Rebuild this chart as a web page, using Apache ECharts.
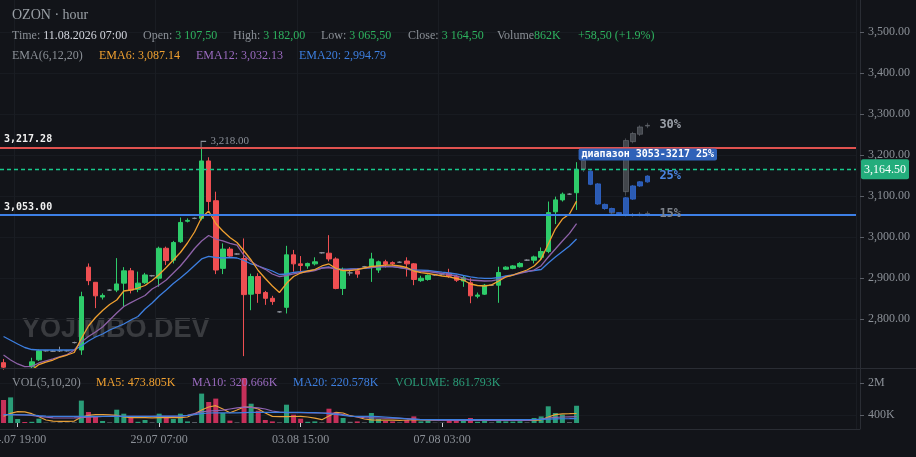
<!DOCTYPE html>
<html><head><meta charset="utf-8">
<script src="https://cdn.jsdelivr.net/npm/echarts@6/dist/echarts.min.js"></script>
<style>html,body{margin:0;padding:0;background:#121419;}#c{width:916px;height:457px;}</style>
</head><body><div id="c"></div>
<script>
// ---- data ----
const slotCount = 121;
const tickIndex = [2, 22, 42, 62];
const tickLabels = ['24.07 19:00', '29.07 07:00', '03.08 15:00', '07.08 03:00'];
const yTicks = [2800, 2900, 3000, 3100, 3200, 3300, 3400, 3500];
const volTicks = [400, 2000];

const opens  = [2693,2660,2670,2676,2683,2700,2722,2721,2722,2722, 2742,2724,2926,2889,2853,2870,2870,2887,2917,2872, 2888,2905,2899,2972,2943,2988,3038,3045,3045,3185, 3088,2923,2970,2958,2947,2860,2903,2864,2850,2817, 2828,2956,2934,2929,2934,2961,2960,2946,2874,2912, 2917,2927,2927,2919,2939,2937,2938,2941,2934,2893, 2896,2907,2909,2911,2904,2892,2888,2855,2860,2882, 2882,2921,2923,2927,2943,2943,2950,2964,3061,3090, 3104,3107.5];
const closes = [2682,2677,2675,2671,2695,2722,2722,2721,2722,2722, 2742,2854,2893,2856,2857,2870,2885,2917,2870,2887, 2907,2905,2972,2942,2986,3035,3040,3045,3185,3086, 2919,2970,2953,2958,2859,2903,2862,2850,2842,2817, 2956,2934,2930,2935,2939,2961,2946,2874,2921,2912, 2909,2927,2946,2939,2933,2934,2938,2934,2896,2899, 2906,2907,2909,2904,2894,2900,2856,2858,2882,2882, 2913,2926,2929,2935,2943,2951,2964,3059,3090,3104, 3104,3164.5];
const lows   = [2676,2650,2664,2666,2678,2697,2720,2719,2719,2720, 2740,2712,2882,2826,2847,2868,2865,2830,2862,2865, 2885,2903,2878,2931,2935,2985,3035,3043,3040,3065, 2909,2909,2950,2956,2709,2821,2839,2834,2834,2815, 2813,2915,2915,2922,2930,2959,2940,2872,2858,2905, 2900,2925,2890,2912,2925,2930,2936,2903,2882,2890, 2893,2905,2907,2900,2890,2878,2838,2850,2858,2880, 2839,2919,2921,2925,2941,2935,2943,2960,3031,3086, 3102,3065.5];
const highs  = [2702,2679,2678,2679,2705,2725,2724,2723,2732,2724, 2744,2866,2935,2889,2862,2872,2948,2926,2924,2915, 2912,2907,2976,2976,2990,3047,3045,3047,3218,3194, 3110,2984,2975,2960,2996,2910,2911,2868,2856,2819, 2978,2968,2953,2937,2950,2963,3004,2950,2925,2918, 2919,2929,2961,2942,2944,2940,2940,2950,2936,2905, 2908,2909,2911,2922,2907,2905,2899,2864,2885,2884, 2927,2928,2931,2938,2945,2954,2974,3086,3098,3108, 3106,3182];

const ema6  = [2676,2672,2670,2672,2675,2688.5,2694.6,2699.5,2706.8,2711.7, 2717.8,2752,2782.4,2803.2,2820.2,2834.9,2845.9,2867.8,2870.2,2875.1, 2881.2,2893.4,2908,2925.1,2943.4,2961.7,2984.9,3011.7,3047.1,3062.9, 3032.4,3014.1,2998.3,2986.1,2965.4,2943.4,2917.8,2898.3,2880,2864.1, 2886.6,2903.2,2911.7,2916.6,2920.2,2928.8,2933.7,2922.7,2917.3,2917.3, 2920.2,2923.9,2927.6,2929.3,2930.7,2930.7,2928.8,2925.1,2916.6,2912.4, 2910.5,2908,2904.4,2902,2898.3,2894.6,2884.9,2881.2,2880,2882.9, 2892.2,2902,2906.8,2912.9,2919,2928.8,2945.9,2982.4,3019,3043.4, 3055.6,3087.14];
const ema12 = [2711.7,2699.5,2689.8,2683.2,2684.1,2692.2,2697.1,2702,2707.6,2712.9, 2723.9,2743.4,2756.8,2767.8,2780,2797.1,2814.1,2830,2839.3,2848.3, 2856.8,2872.7,2882.4,2894.6,2911.7,2928.8,2949.5,2971.5,2989.8,3003.2, 2994.6,2989.8,2984.1,2979.5,2954.4,2939.8,2928.8,2920.7,2909.3,2902.7, 2905.6,2909.3,2912.9,2914.6,2917.6,2923.4,2925.1,2921.5,2919.5,2920.7, 2922,2923.4,2925.1,2926.8,2927.1,2927.1,2925.1,2921.5,2916.6,2915.9, 2915.1,2912.9,2910.5,2908,2904.4,2899.5,2894.6,2893.4,2892.2,2892.7, 2895.9,2902,2906.8,2911,2914.9,2919,2929.5,2950.7,2970.2,2989.8, 3008.3,3032.13];
const ema20 = [2756.8,2747.6,2738.5,2730,2725.1,2723.9,2723.9,2723.9,2723.9,2723.9, 2723.9,2733.7,2745.9,2755.6,2762.9,2772.7,2780,2787.3,2797.1,2805.6, 2823.9,2838.5,2855.6,2870.2,2886.1,2899.5,2914.1,2930,2945.9,2952, 2949.5,2948.3,2949.5,2948.3,2942.2,2933.7,2928.8,2922.7,2916.6,2908, 2909.3,2912.9,2914.9,2917.1,2919.5,2923.9,2926.3,2921.5,2920.7,2921.5, 2922.2,2923.2,2925.1,2926.8,2927.1,2927.1,2925.1,2922.2,2919,2918.5, 2917.8,2915.9,2913.7,2911.7,2909.3,2905.6,2902.4,2900,2898.8,2898.8, 2900.7,2904.4,2906.8,2912.4,2915.4,2917.8,2920.2,2936.1,2950.7,2964.1, 2977.6,2994.79];

// volume in thousands
const volumes = [1150,1280,200,50,60,215,20,20,30,20, 30,1120,550,330,100,30,665,465,330,60, 150,30,465,330,200,465,80,40,1470,1050, 1220,500,120,30,2250,965,615,150,80,30, 915,415,215,60,80,30,715,550,250,60, 80,30,500,200,100,80,30,150,330,80, 100,20,20,120,180,100,250,60,150,30, 200,80,70,90,30,250,330,835,500,420, 40,862];
const volMA5  = [335,480,565,560,465,315,150,90,80,85, 95,300,380,415,420,410,380,300,270,265, 265,260,270,265,265,270,300,450,650,800, 865,700,515,650,800,790,700,500,330,320, 320,325,330,300,240,165,350,530,500,365, 300,200,160,140,140,140,135,150,170,160, 140,140,135,150,160,170,160,140,135,130, 140,150,150,140,130,135,160,300,420,460, 465,474];
const volMA10 = [420,415,410,400,380,330,290,260,250,250, 255,270,290,310,325,335,340,335,330,330, 330,330,330,330,330,340,380,470,560,600, 620,640,700,760,790,780,760,700,600,540, 520,515,515,510,505,500,500,480,420,350, 300,270,260,250,245,240,235,220,200,170, 150,140,130,125,125,125,125,125,125,125, 125,125,125,125,130,160,200,250,280,300, 310,321];
const volMA20 = [415,415,412,410,400,370,345,335,330,330, 330,330,330,330,330,330,330,330,330,330, 330,335,340,345,350,360,380,420,470,500, 505,505,505,510,520,530,530,530,530,530, 530,530,530,525,520,500,470,430,380,340, 330,330,330,320,300,270,240,210,190,170, 165,165,165,165,165,165,165,165,165,165, 165,165,165,165,170,175,185,195,205,212, 216,221];

// forecast scenarios
const scenUpIdx = [82, 88, 89, 90, 91];
const scenUpO = [3165, 3110, 3232, 3250, 3270];
const scenUpC = [3186, 3235, 3252, 3268, 3272];
const scenUpL = [3158, 3100, 3228, 3246, 3265];
const scenUpH = [3192, 3240, 3256, 3272, 3278];
const scenMidIdx = [83, 84, 85, 86, 87, 88, 89, 90, 91];
const scenMidO = [3160, 3129, 3079, 3069, 3059, 3053, 3092, 3124, 3134];
const scenMidC = [3128, 3080, 3069, 3061, 3057, 3095, 3124, 3134, 3148];
const scenMidL = [3126, 3078, 3066, 3058, 3055, 3050, 3090, 3122, 3132];
const scenMidH = [3162, 3131, 3081, 3071, 3060, 3097, 3126, 3136, 3150];
const scenLowIdx = [86, 87, 89, 90, 91];
const scenLowO = [3060, 3057, 3052, 3054, 3055];
const scenLowC = [3058, 3056, 3054, 3055, 3057];
const scenLowL = [3055, 3053, 3049, 3050, 3050];
const scenLowH = [3063, 3060, 3058, 3060, 3062];

const resistance = 3217.28, support = 3053, lastPrice = 3164.5, peakHigh = 3218;

// ---- build ----
const cats = Array.from({length: slotCount}, (_, i) => 'c' + i);
const candleData = opens.map((o, i) => [o, closes[i], lows[i], highs[i]]);
function scen(idx, O, C, L, H) {
  const d = cats.map(() => ['-', '-', '-', '-']);
  idx.forEach((k, j) => { d[k] = [O[j], C[j], L[j], H[j]]; });
  return d;
}
const UP = '#2ecc6a', DN = '#ef4f52', DOJI = '#8a8f98';
const VUP = '#2a9d78', VDN = '#c6305a';
const volData = volumes.map((v, i) => ({
  value: v,
  itemStyle: {color: closes[i] > opens[i] ? VUP : (closes[i] < opens[i] ? VDN : '#6a6e76')}
}));
const fmt2 = v => v.toLocaleString('en-US', {minimumFractionDigits: 2, maximumFractionDigits: 2});
const SERIF = '"Liberation Serif", "DejaVu Serif", serif';
const MONO = '"DejaVu Sans Mono", "Liberation Mono", monospace';
const GREY = '#8b9097', GREEN = '#2eb35f', ORANGE = '#f0a030', PURPLE = '#9b6bc0', BLUE = '#3d7fe0';

function T(text, left, top, rich) {
  return {text, left, top, padding: 0, textStyle: {fontFamily: SERIF, fontSize: 12, fontWeight: 'normal', rich}};
}
const r = (c, s) => ({color: c, fontFamily: SERIF, fontSize: s || 12, lineHeight: 14});
const rich = {l: r(GREY), w: r('#d1d4dc'), g: r(GREEN), o: r(ORANGE), p: r(PURPLE), b: r(BLUE), t: r(VUP), n: r('#9aa0a6', 14)};

const chart = echarts.init(document.getElementById('c'), null, {renderer: 'canvas'});
chart.setOption({
  backgroundColor: '#121419',
  animation: false,
  title: [
    T('{n|OZON · hour}', 12, 8, rich),
    T('{l|Time: }{w|11.08.2026 07:00}', 12, 29, rich),
    T('{l|Open: }{g|3 107,50}', 143, 29, rich),
    T('{l|High: }{g|3 182,00}', 233, 29, rich),
    T('{l|Low: }{g|3 065,50}', 321, 29, rich),
    T('{l|Close: }{g|3 164,50}', 408, 29, rich),
    T('{l|Volume}{g|862K}', 497, 29, rich),
    T('{g|+58,50 (+1.9%)}', 578, 29, rich),
    T('{l|EMA(6,12,20)}', 12, 49, rich),
    T('{o|EMA6: 3,087.14}', 99, 49, rich),
    T('{p|EMA12: 3,032.13}', 196, 49, rich),
    T('{b|EMA20: 2,994.79}', 299, 49, rich),
    T('{l|VOL(5,10,20)}', 12, 376, rich),
    T('{o|MA5: 473.805K}', 96, 376, rich),
    T('{p|MA10: 320.666K}', 192, 376, rich),
    T('{b|MA20: 220.578K}', 293, 376, rich),
    T('{t|VOLUME: 861.793K}', 395, 376, rich)
  ],
  graphic: [
    {type: 'text', left: 22, top: 316, z: 0, silent: true,
      style: {text: 'YOJIMBO.DEV', font: 'bold 27px "Liberation Sans", Arial, sans-serif', fill: 'rgba(255,255,255,0.17)'}},
    {type: 'line', z: 10, silent: true, shape: {x1: 0, y1: 368.5, x2: 916, y2: 368.5}, style: {stroke: '#2a2d34', lineWidth: 1}},
    {type: 'line', z: 10, silent: true, shape: {x1: 0, y1: 429.5, x2: 860, y2: 429.5}, style: {stroke: '#2a2d34', lineWidth: 1}}
  ],
  grid: [
    {left: 0, right: 60, top: 0, height: 368, containLabel: false, outerBoundsMode: 'none'},
    {left: 0, right: 60, top: 368, height: 61, containLabel: false, outerBoundsMode: 'none'}
  ],
  xAxis: [
    {type: 'category', gridIndex: 0, data: cats, boundaryGap: true,
      axisLine: {show: false}, axisTick: {show: false}, axisLabel: {show: false},
      splitLine: {show: true, interval: (i) => tickIndex.indexOf(i) >= 0, lineStyle: {color: '#1a1d23'}}},
    {type: 'category', gridIndex: 1, data: cats, boundaryGap: true,
      axisLine: {show: false},
      axisTick: {show: true, alignWithLabel: true, length: 4, interval: (i) => tickIndex.indexOf(i) >= 0, lineStyle: {color: '#cfd2d6'}},
      axisLabel: {show: true, interval: (i) => tickIndex.indexOf(i) >= 0, margin: 5,
        formatter: (v, i) => { const k = tickIndex.indexOf(i); return k >= 0 ? tickLabels[k] : ''; },
        color: GREY, fontFamily: SERIF, fontSize: 12},
      splitLine: {show: true, interval: (i) => tickIndex.indexOf(i) >= 0, lineStyle: {color: '#1a1d23'}}}
  ],
  yAxis: [
    {type: 'value', gridIndex: 0, position: 'right', offset: 4, min: 2680, max: 3577.56, scale: true,
      axisLine: {show: true, lineStyle: {color: '#2a2d34'}},
      axisTick: {show: true, length: 4, customValues: yTicks, lineStyle: {color: '#5a5e66'}},
      axisLabel: {show: true, customValues: yTicks, formatter: fmt2, color: GREY, fontFamily: SERIF, fontSize: 12, margin: 8},
      splitLine: {show: true, lineStyle: {color: '#181b21'}}},
    {type: 'value', gridIndex: 1, position: 'right', offset: 4, min: -300, max: 2750,
      axisLine: {show: true, lineStyle: {color: '#2a2d34'}},
      axisTick: {show: true, length: 4, customValues: volTicks, lineStyle: {color: '#5a5e66'}},
      axisLabel: {show: true, customValues: volTicks, formatter: v => v >= 1000 ? (v / 1000) + 'M' : v + 'K',
        color: GREY, fontFamily: SERIF, fontSize: 12, margin: 8},
      splitLine: {show: true, lineStyle: {color: '#181b21'}}}
  ],
  series: [
    {type: 'candlestick', name: 'OZON', xAxisIndex: 0, yAxisIndex: 0, data: candleData, barWidth: 5, z: 3,
      itemStyle: {color: UP, color0: DN, borderColor: UP, borderColor0: DN, borderColorDoji: DOJI, borderWidth: 1},
      markLine: {symbol: ['none', 'none'], silent: true, animation: false,
        data: [
          {yAxis: resistance, lineStyle: {color: '#e0524f', width: 2, type: 'solid'},
            label: {show: true, position: 'insideStartTop', distance: [4, 3], formatter: '3,217.28', color: '#f0f0f0', fontFamily: MONO, fontWeight: 'bold', fontSize: 10}},
          {yAxis: support, lineStyle: {color: '#3d7fe6', width: 2, type: 'solid'},
            label: {show: true, position: 'insideStartTop', distance: [4, 3], formatter: '3,053.00', color: '#f0f0f0', fontFamily: MONO, fontWeight: 'bold', fontSize: 10}},
          {yAxis: lastPrice, lineStyle: {color: '#18c98c', width: 1.3, type: [4, 3], opacity: 1},
            label: {show: true, position: 'end', distance: 5, formatter: '3,164.50', color: '#ffffff', backgroundColor: '#23ad7c',
              padding: [3, 3, 3, 3], borderRadius: 2, fontFamily: SERIF, fontSize: 12, lineHeight: 14}}
        ]},
      markPoint: {silent: true, animation: false,
        data: [{coord: ['c28', peakHigh], symbol: 'path://M0,10L0,0L10,0', symbolSize: [5, 6], symbolOffset: [2, -3],
          itemStyle: {color: 'transparent', borderColor: '#8a8f98', borderWidth: 1},
          label: {show: true, position: 'right', distance: 4, offset: [0, -3], formatter: '3,218.00', color: '#8a8f98', fontFamily: SERIF, fontSize: 11}}]}
    },
    {type: 'candlestick', name: 'scenUp', data: scen(scenUpIdx, scenUpO, scenUpC, scenUpL, scenUpH), barWidth: 5, z: 2,
      itemStyle: {color: '#8c9099', color0: '#8c9099', borderColor: '#8c9099', borderColor0: '#8c9099', opacity: 0.4}},
    {type: 'candlestick', name: 'scenLow', data: scen(scenLowIdx, scenLowO, scenLowC, scenLowL, scenLowH), barWidth: 5, z: 2,
      itemStyle: {color: '#5a5f68', color0: '#5a5f68', borderColor: '#5a5f68', borderColor0: '#5a5f68', borderColorDoji: '#5a5f68', opacity: 0.8}},
    {type: 'candlestick', name: 'scenMid', data: scen(scenMidIdx, scenMidO, scenMidC, scenMidL, scenMidH), barWidth: 5, z: 2,
      itemStyle: {color: '#2f63c4', color0: '#2f63c4', borderColor: '#2f63c4', borderColor0: '#2f63c4', borderColorDoji: '#2f63c4', opacity: 0.9},
      markPoint: {silent: true, animation: false, symbol: 'circle', symbolSize: 0,
        data: [
          {coord: ['c81', 3200.7], label: {show: true, position: 'right', distance: 2, formatter: 'диапазон 3053-3217 25%', color: '#ffffff',
            backgroundColor: '#2f62b8', padding: [1, 3, 0, 3], borderRadius: 2, fontFamily: MONO, fontWeight: 'bold', fontSize: 10, lineHeight: 11}},
          {coord: ['c92', 3272.7], label: {show: true, position: 'right', distance: 5, formatter: '30%', color: '#9ba0a8', fontFamily: MONO, fontWeight: 'bold', fontSize: 12}},
          {coord: ['c92', 3148.3], label: {show: true, position: 'right', distance: 5, formatter: '25%', color: '#4a84e0', fontFamily: MONO, fontWeight: 'bold', fontSize: 12}},
          {coord: ['c92', 3055.6], label: {show: true, position: 'right', distance: 5, formatter: '15%', color: '#7d828a', fontFamily: MONO, fontWeight: 'bold', fontSize: 12}}
        ]}},
    {type: 'line', name: 'EMA20', data: ema20, showSymbol: false, symbol: 'none', z: 4, lineStyle: {color: BLUE, width: 1.3}},
    {type: 'line', name: 'EMA12', data: ema12, showSymbol: false, symbol: 'none', z: 4, lineStyle: {color: '#8e62a8', width: 1.3}},
    {type: 'line', name: 'EMA6', data: ema6, showSymbol: false, symbol: 'none', z: 4, lineStyle: {color: ORANGE, width: 1.3}},
    {type: 'bar', name: 'VOL', xAxisIndex: 1, yAxisIndex: 1, data: volData, barWidth: 5},
    {type: 'line', name: 'MA5', xAxisIndex: 1, yAxisIndex: 1, data: volMA5, showSymbol: false, symbol: 'none', lineStyle: {color: '#e8a13a', width: 1.2}},
    {type: 'line', name: 'MA10', xAxisIndex: 1, yAxisIndex: 1, data: volMA10, showSymbol: false, symbol: 'none', lineStyle: {color: '#9064b4', width: 1.2}},
    {type: 'line', name: 'MA20', xAxisIndex: 1, yAxisIndex: 1, data: volMA20, showSymbol: false, symbol: 'none', lineStyle: {color: '#3d7fe0', width: 1.2}}
  ]
});
</script>
</body></html>
